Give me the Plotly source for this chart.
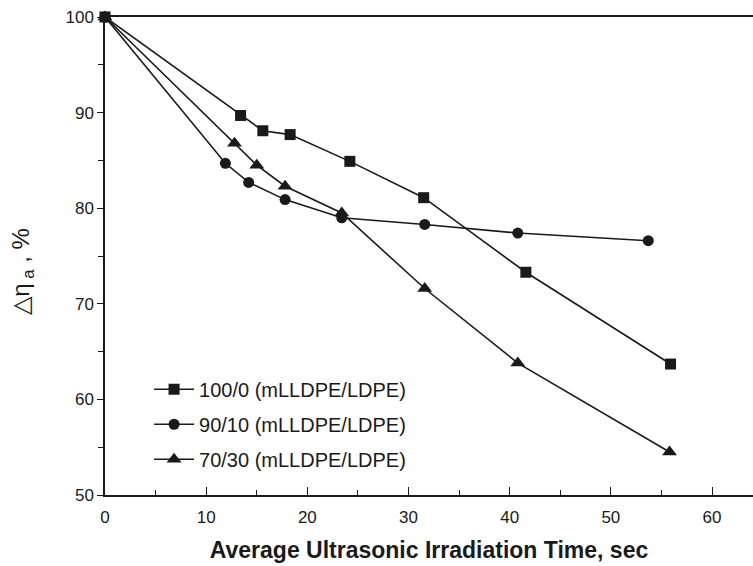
import plotly.graph_objects as go

# Data
x_100_0 = [0, 13.4, 15.6, 18.3, 24.2, 31.5, 41.6, 55.9]
y_100_0 = [100, 89.7, 88.1, 87.7, 84.9, 81.1, 73.3, 63.7]

x_90_10 = [0, 11.9, 14.2, 17.8, 23.4, 31.6, 40.8, 53.7]
y_90_10 = [100, 84.7, 82.7, 80.9, 79.0, 78.3, 77.4, 76.6]

x_70_30 = [0, 12.8, 15.0, 17.8, 23.4, 31.6, 40.8, 55.8]
y_70_30 = [100, 86.8, 84.5, 82.3, 79.5, 71.6, 63.8, 54.5]

series_names = ["100/0 (mLLDPE/LDPE)", "90/10 (mLLDPE/LDPE)", "70/30 (mLLDPE/LDPE)"]
x_ticks = [0, 10, 20, 30, 40, 50, 60]
y_ticks = [50, 60, 70, 80, 90, 100]

ink = "#1a1a1a"
fig = go.Figure()
for i, (xs, ys, name, sym, size) in enumerate([
    (x_100_0, y_100_0, series_names[0], "square", 11),
    (x_90_10, y_90_10, series_names[1], "circle", 11),
    (x_70_30, y_70_30, series_names[2], "triangle-up", 13),
]):
    fig.add_trace(go.Scatter(
        x=xs, y=ys, name=name, mode="lines+markers",
        line=dict(color=ink, width=1.6),
        marker=dict(symbol=sym, size=size, color=ink),
        cliponaxis=False, legendgroup=f"g{i}",
    ))

fig.add_annotation(
    text="△η<sub> a</sub> , %", textangle=-90,
    xref="paper", yref="paper", x=0, y=0.467,
    xanchor="center", yanchor="middle", xshift=-82, showarrow=False,
    font=dict(size=24, color=ink),
)

fig.update_layout(
    width=753, height=566,
    margin=dict(l=105, r=0, t=17, b=71),
    plot_bgcolor="white", paper_bgcolor="white",
    font=dict(family="Liberation Sans, Arial, sans-serif", color=ink),
    showlegend=True,
    legend=dict(
        x=0.068, y=0.262, xanchor="left", yanchor="top",
        bgcolor="rgba(0,0,0,0)", font=dict(size=20, color=ink),
        traceorder="grouped", tracegroupgap=6, itemwidth=40,
    ),
    xaxis=dict(
        range=[0, 64.05], tickvals=x_ticks, showgrid=False, zeroline=False,
        showline=True, linecolor=ink, linewidth=1.5, mirror=True,
        ticks="inside", ticklen=8, tickwidth=1.2, tickcolor=ink,
        minor=dict(ticks="inside", ticklen=5, dtick=5, tickcolor=ink, tickwidth=1.2),
        tickfont=dict(size=17, color=ink), ticklabelstandoff=6,
        automargin=False,
        title=dict(text="<b>Average Ultrasonic Irradiation Time, sec</b>",
                   font=dict(size=23, color=ink), standoff=16),
    ),
    yaxis=dict(
        range=[50, 100], tickvals=y_ticks, showgrid=False, zeroline=False,
        showline=True, linecolor=ink, linewidth=1.5,
        ticks="outside", ticklen=6, tickwidth=1.2, tickcolor=ink,
        minor=dict(ticks="outside", ticklen=5, dtick=5, tickcolor=ink, tickwidth=1.2),
        tickfont=dict(size=17, color=ink), automargin=False,
    ),
)

fig.write_html("out.html")
